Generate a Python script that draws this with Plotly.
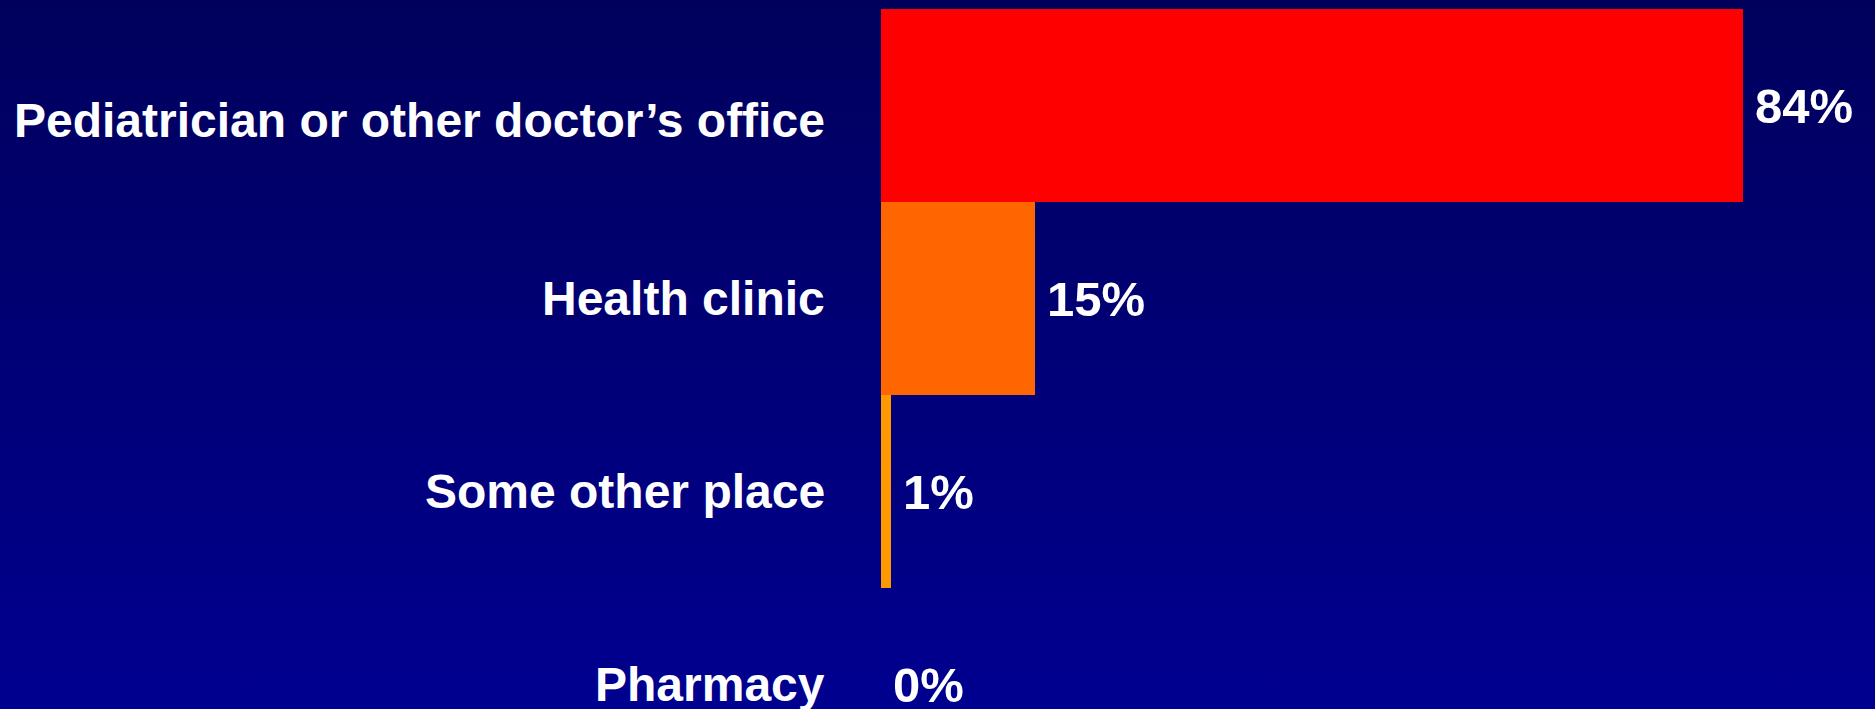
import base64
import plotly.graph_objects as go

categories = ["Pediatrician or other doctor’s office", "Health clinic", "Some other place", "Pharmacy"]
values = [84, 15, 1, 0]
value_labels = ["84%", "15%", "1%", "0%"]
bar_colors = ["#FF0000", "#FF6600", "#FF9900", "#FFCC00"]

W, H = 1875, 709
ML, MR, MT, MB = 881, 0, 9, 0
pw, ph = W - ML - MR, H - MT - MB
FONT = "Arial, 'Liberation Sans', sans-serif"
label_yshift = [-15, 0, 0, 0]

svg = (
    '<svg xmlns="http://www.w3.org/2000/svg" width="100" height="100" preserveAspectRatio="none">'
    '<defs><linearGradient id="g" x1="0" y1="0" x2="0" y2="1">'
    '<stop offset="0" stop-color="#00005C"/><stop offset="1" stop-color="#000090"/>'
    '</linearGradient></defs><rect width="100" height="100" fill="url(#g)"/></svg>'
)
bg_src = "data:image/svg+xml;base64," + base64.b64encode(svg.encode()).decode()

fig = go.Figure(
    go.Bar(
        x=values,
        y=categories,
        orientation="h",
        marker=dict(color=bar_colors, line=dict(width=0)),
        hoverinfo="skip",
    )
)

for v, c, t in zip(values, categories, value_labels):
    fig.add_annotation(
        x=v, y=c, xref="x", yref="y", text=t, showarrow=False,
        xanchor="left", yanchor="middle", xshift=10,
        font=dict(family=FONT, size=49, color="white", weight="bold"),
    )

for c, ys in zip(categories, label_yshift):
    fig.add_annotation(
        x=0, y=c, xref="paper", yref="y", text=c, showarrow=False,
        xanchor="right", yanchor="middle", xshift=-54, yshift=ys,
        font=dict(family=FONT, size=48, color="white", weight="bold"),
    )

fig.add_layout_image(
    source=bg_src, xref="paper", yref="paper",
    x=-ML / pw, y=1 + MT / ph, sizex=W / pw, sizey=H / ph,
    xanchor="left", yanchor="top", sizing="stretch", layer="below",
)

fig.update_layout(
    width=W, height=H,
    margin=dict(l=ML, r=MR, t=MT, b=MB, pad=0),
    paper_bgcolor="#000078",
    plot_bgcolor="rgba(0,0,0,0)",
    bargap=0,
    showlegend=False,
    xaxis=dict(range=[0, pw / (862 / 84)], visible=False, showgrid=False, zeroline=False),
    yaxis=dict(
        type="category",
        categoryorder="array", categoryarray=categories,
        range=[-0.5 + ph / 193.0, -0.5],
        showgrid=False, zeroline=False, showline=False, ticks="",
        showticklabels=False,
    ),
)

fig.write_html(
    "out.html",
    config={"displayModeBar": False},
    post_script="document.body.style.margin='0';document.body.style.overflow='hidden';",
)
